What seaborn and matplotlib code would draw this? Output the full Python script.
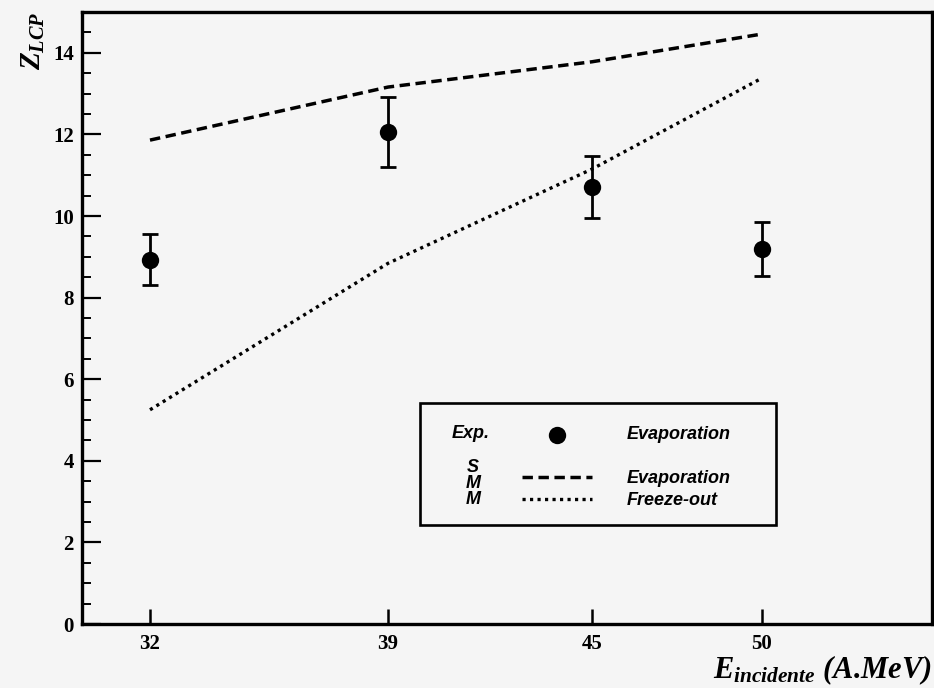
import matplotlib
matplotlib.use("Agg")
import matplotlib.pyplot as plt
import seaborn as sns
from matplotlib.lines import Line2D
from matplotlib.patches import Rectangle
from matplotlib.ticker import MultipleLocator, FixedLocator
from matplotlib.font_manager import FontProperties

# Incident energy (A.MeV)
energies = [32, 39, 45, 50]
# Measured mean charge of the light charged products, with errors
z_exp = [8.93, 12.06, 10.71, 9.19]
z_exp_err = [0.63, 0.86, 0.76, 0.66]
# SMM predictions
z_smm_evap = [11.86, 13.16, 13.78, 14.46]
z_smm_freeze = [5.25, 8.84, 11.15, 13.38]

x_tick_labels = ["32", "39", "45", "50"]

sns.set_theme(style="ticks")
bg = "#f5f5f5"
plt.rcParams.update({
    "font.family": ["Liberation Serif", "DejaVu Serif"],
    "font.weight": "bold",
    "mathtext.fontset": "custom",
    "mathtext.it": "Liberation Serif:italic:bold",
    "mathtext.rm": "Liberation Serif:bold",
    "mathtext.bf": "Liberation Serif:bold",
    "axes.edgecolor": "black",
    "xtick.color": "black",
    "ytick.color": "black",
    "text.color": "black",
    "axes.labelcolor": "black",
    "figure.facecolor": bg,
    "axes.facecolor": bg,
})

fig = plt.figure(figsize=(9.34, 6.88), dpi=100)
ax = fig.add_axes([82 / 934, 64 / 688, 850 / 934, 612 / 688])

# model curves
sns.lineplot(x=energies, y=z_smm_evap, ax=ax, color="black", lw=2.5,
             linestyle=(0, (3.0, 1.6)), label="Evaporation", zorder=2)
sns.lineplot(x=energies, y=z_smm_freeze, ax=ax, color="black", lw=2.4,
             linestyle=(0, (0.95, 1.3)), label="Freeze-out", zorder=2)

# experimental points
ax.errorbar(energies, z_exp, yerr=z_exp_err, fmt="none", ecolor="black",
            elinewidth=2.0, capsize=5.8, capthick=2.0, zorder=3)
sns.scatterplot(x=energies, y=z_exp, ax=ax, color="black", s=12.5 ** 2,
                marker="o", linewidth=0, label="Evaporation exp", zorder=4)

ax.set_xlim(30, 55)
ax.set_ylim(0, 15)
ax.xaxis.set_major_locator(FixedLocator(energies))
ax.set_xticklabels(x_tick_labels)
ax.yaxis.set_major_locator(MultipleLocator(2))
ax.yaxis.set_minor_locator(MultipleLocator(0.5))

ax.tick_params(axis="y", which="major", direction="in", length=14, width=1.6,
               pad=6, labelsize=15, right=False)
ax.tick_params(axis="y", which="minor", direction="in", length=6.5, width=1.4,
               right=False)
ax.tick_params(axis="x", which="major", direction="in", length=11, width=1.8,
               pad=7, labelsize=15, top=False)
ax.tick_params(axis="x", which="minor", bottom=False, top=False)

for side in ["left", "right", "top", "bottom"]:
    ax.spines[side].set_linewidth(2.4)
    ax.spines[side].set_color("black")

ax.set_ylabel(r"$Z_{LCP}$", fontsize=21, loc="top", labelpad=4)
ax.set_xlabel(r"$E_{incidente}$ (A.MeV)", fontsize=22, loc="right",
              labelpad=-0.5, fontstyle="italic", fontweight="bold")

# legend box
leg_font = FontProperties(family="Liberation Sans", weight="bold",
                          style="italic", size=13)
handles, labels = ax.get_legend_handles_labels()
hmap = dict(zip(labels, handles))
blank = Line2D([], [], alpha=0)
frame = Rectangle((0.3976, 0.1618), 0.4188, 0.1993, transform=ax.transAxes,
                  facecolor=bg, edgecolor="black", lw=1.9, zorder=5)
ax.add_patch(frame)
leg = ax.legend(handles=[hmap["Evaporation exp"], blank, hmap["Evaporation"],
                         hmap["Freeze-out"]],
                labels=["Evaporation", "", "Evaporation", "Freeze-out"],
                loc="upper left", bbox_to_anchor=(0.5176, 0.3230),
                frameon=False, borderpad=0, borderaxespad=0,
                handlelength=3.9, handletextpad=1.9, labelspacing=0.28,
                prop=leg_font)
leg.set_zorder(6)
ax.text(0.457, 0.3105, "Exp.", transform=ax.transAxes, ha="center",
        va="center", fontproperties=leg_font, zorder=7)
ax.text(0.460, 0.2290, "S\nM\nM", transform=ax.transAxes, ha="center",
        va="center", fontproperties=leg_font, linespacing=0.92, zorder=7)

fig.savefig("out.png", dpi=100, facecolor=bg)
